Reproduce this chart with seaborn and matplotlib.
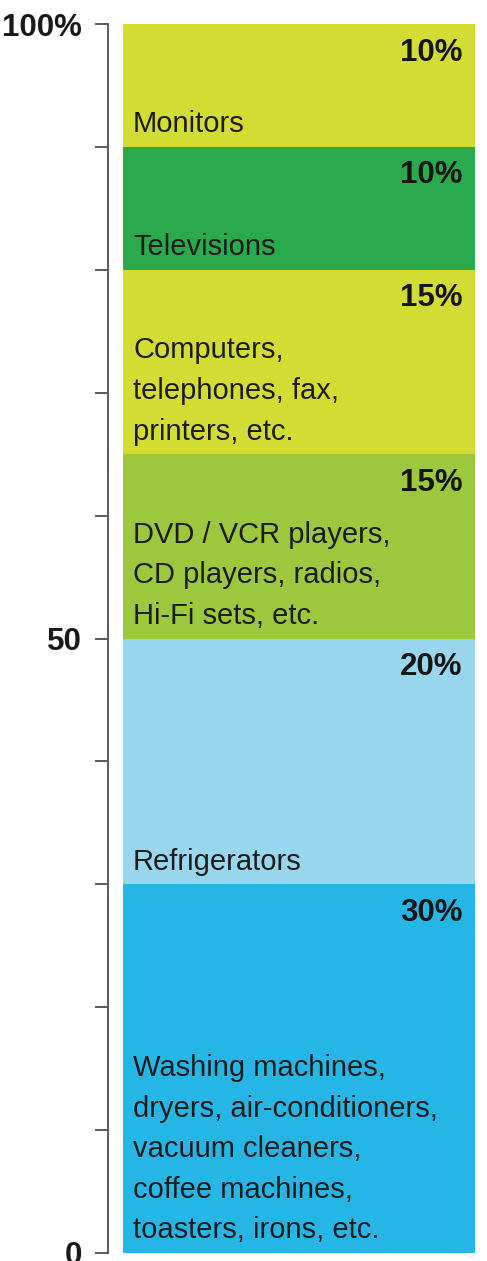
import numpy as np
import pandas as pd
import matplotlib
matplotlib.use("Agg")
import matplotlib.pyplot as plt
import seaborn as sns

# Share of household appliance groups (bottom to top), in percent
categories = [
    "Washing machines,\ndryers, air-conditioners,\nvacuum cleaners,\ncoffee machines,\ntoasters, irons, etc.",
    "Refrigerators",
    "DVD / VCR players,\nCD players, radios,\nHi-Fi sets, etc.",
    "Computers,\ntelephones, fax,\nprinters, etc.",
    "Televisions",
    "Monitors",
]
shares = [30, 20, 15, 15, 10, 10]
colors = ["#26b6e6", "#98d6ee", "#9dc73c", "#d3dc33", "#2aa94d", "#d3dc33"]

tick_values = list(range(0, 101, 10))
tick_labels = ["0", "", "", "", "", "50", "", "", "", "", "100%"]

sns.set_style("white")
plt.rcParams["font.family"] = ["Liberation Sans", "DejaVu Sans"]

df = pd.DataFrame({"category": categories, "share": shares, "color": colors})
df["top"] = df["share"].cumsum()
df["bottom"] = df["top"] - df["share"]

fig = plt.figure(figsize=(4.87, 12.61), dpi=100)
ax = fig.add_axes([108 / 487, 8 / 1261, 379 / 487, 1229 / 1261])

# Stacked column: draw cumulative heights from the tallest down
for i in reversed(range(len(df))):
    sns.barplot(x=["all"], y=[df["top"].iloc[i]], color=df["color"].iloc[i],
                saturation=1, width=0.8, linewidth=0, ax=ax)

ax.set_xlim(-0.434, 0.427)
ax.set_ylim(0, 100)
ax.set_xlabel("")
ax.set_ylabel("")
ax.set_xticks([])
ax.set_yticks(tick_values)
ax.set_yticklabels(tick_labels, fontsize=22.5, fontweight="bold", color="#1a1a1a")
ax.tick_params(axis="y", direction="out", length=9.5, width=1.4, color="#5a5a5a", pad=9, left=True)

for side in ["top", "right", "bottom"]:
    ax.spines[side].set_visible(False)
ax.spines["left"].set_color("#5a5a5a")
ax.spines["left"].set_linewidth(1.4)

# Labels inside each segment: share at top right, group name at bottom left
for i, row in df.iterrows():
    ax.text(0.371, row["top"] - 1.1, f"{row['share']}%", ha="right", va="top",
            fontsize=22.5, fontweight="bold", color="#151515")
    ax.text(-0.377, row["bottom"] + 0.7, row["category"], ha="left", va="bottom",
            fontsize=21, color="#1c1c1c", linespacing=1.57)

fig.savefig("out.png", dpi=100)
